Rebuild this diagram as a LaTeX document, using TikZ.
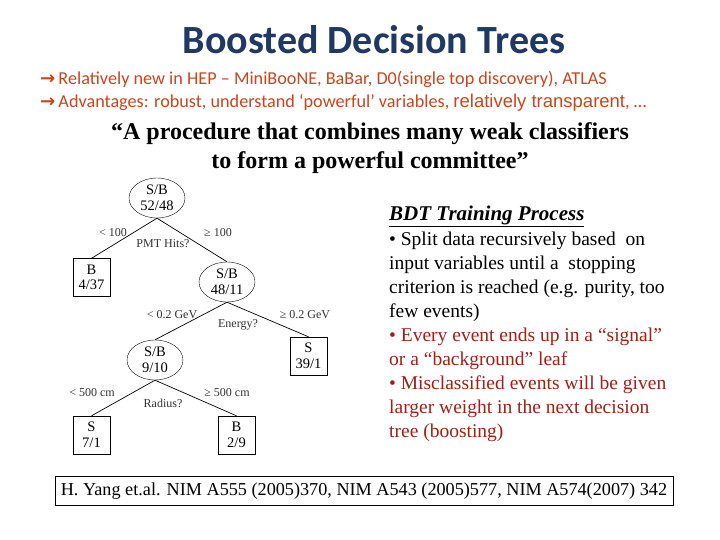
\documentclass[tikz,border=0pt]{standalone}
\usepackage{fontspec}
\setmainfont{Liberation Serif}
\newfontfamily\calfont{Carlito}
\newfontfamily\lsans{Liberation Sans}
\newfontfamily\dvs{DejaVu Sans}
\usetikzlibrary{shapes.geometric}
\definecolor{ttl}{HTML}{1F3864}
\definecolor{org}{HTML}{C8461E}
\definecolor{drd}{HTML}{A0201A}
\begin{document}
\begin{tikzpicture}[x=1pt,y=-1pt,
 ell/.style={draw,ellipse,minimum width=56pt,minimum height=40pt,inner sep=0pt,align=center,font=\fontsize{14.5}{15.5}\selectfont},
 leaf/.style={draw,rectangle,minimum width=37pt,minimum height=38pt,inner sep=0pt,align=center,font=\fontsize{14.5}{15.5}\selectfont},
 lab/.style={font=\fontsize{12}{13}\selectfont,text=black!80},
 edge/.style={draw,line width=0.7pt}]
\useasboundingbox (0,0) rectangle (720,540);
\fill[white] (0,0) rectangle (720,540);
\node[font=\calfont\bfseries\fontsize{40}{42}\selectfont,text=ttl] (title) at (374,40) {Boosted Decision Trees};
\node[anchor=west,font=\calfont\fontsize{18.2}{20}\selectfont,text=org,inner sep=0pt] (l1) at (40,79) {{\dvs\bfseries →}\,Relatively new in HEP – MiniBooNE, BaBar, D0(single top discovery), ATLAS};
\node[anchor=west,font=\calfont\fontsize{18.2}{20}\selectfont,text=org,inner sep=0pt] (l2) at (40,103) {{\dvs\bfseries →}\,Advantages: robust, understand ‘powerful’ variables, {\lsans\fontsize{18.5}{20}\selectfont relatively transparent}, …};
\node[font=\bfseries\fontsize{24}{29}\selectfont,align=center] (q) at (370,148) {“A procedure that combines many weak classifiers\\to form a powerful committee”};
% tree
\node[ell] (r) at (157,198) {S/B\\52/48};
\node[leaf] (b1) at (91.5,277.5) {B\\4/37};
\node[ell] (n2) at (227,282) {S/B\\48/11};
\node[leaf] (s1) at (308.5,356) {S\\39/1};
\node[ell] (n3) at (155,360) {S/B\\9/10};
\node[leaf] (s2) at (91.5,435) {S\\7/1};
\node[leaf] (b2) at (236.5,435) {B\\2/9};
\draw[edge] (r.south) -- (b1.north);
\draw[edge] (r.south) -- (n2.north);
\draw[edge] (n2.south) -- (s1.north);
\draw[edge] (n2.south) -- (n3.north);
\draw[edge] (n3.south) -- (s2.north);
\draw[edge] (n3.south) -- (b2.north);
\node[lab] (t1) at (113,233) {< 100};
\node[lab] (t2) at (218,233) {≥ 100};
\node[lab] (t3) at (163,244) {PMT Hits?};
\node[lab] (t4) at (172,315) {< 0.2 GeV};
\node[lab] (t5) at (238,325) {Energy?};
\node[lab] (t6) at (305,315) {≥ 0.2 GeV};
\node[lab] (t7) at (92,393) {< 500 cm};
\node[lab] (t8) at (163,403) {Radius?};
\node[lab] (t9) at (227,393) {≥ 500 cm};
% right text
\node[anchor=west,font=\bfseries\itshape\fontsize{21}{22}\selectfont,inner sep=0pt] (h) at (389,216) {\underline{BDT Training Process}};
\node[anchor=north west,align=left,font=\fontsize{19.5}{24}\selectfont,inner sep=0pt] (txt) at (389,232) {• Split data recursively based\ \ on\\input variables until a\ \ stopping\\criterion is reached (e.g. purity, too\\few events)\\\textcolor{drd}{• Every event ends up in a “signal”}\\\textcolor{drd}{or a “background” leaf}\\\textcolor{drd}{• Misclassified events will be given}\\\textcolor{drd}{larger weight in the next decision}\\\textcolor{drd}{tree (boosting)}};
\node[draw,line width=0.8pt,minimum width=618pt,minimum height=29pt,font=\fontsize{18.2}{19}\selectfont] (ref) at (364,491) {H. Yang et.al. NIM A555 (2005)370, NIM A543 (2005)577, NIM A574(2007) 342};
\end{tikzpicture}
\end{document}
